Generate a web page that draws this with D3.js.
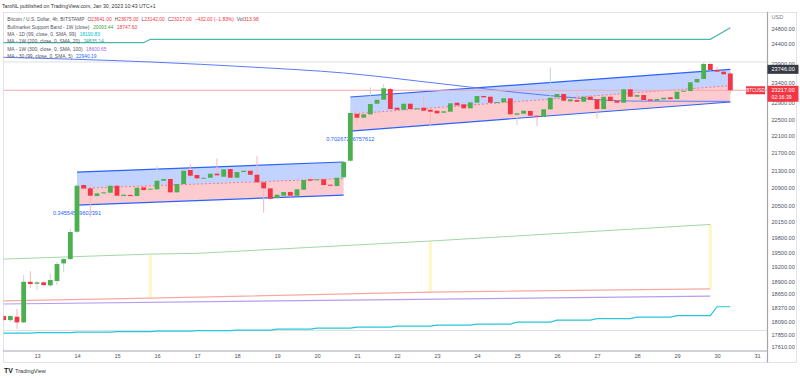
<!DOCTYPE html>
<html>
<head>
<meta charset="utf-8">
<script src="https://cdn.jsdelivr.net/npm/d3@7"></script>
<style>
  body { margin: 0; background: #fff; }
  svg text { font-family: "Liberation Sans", Arial, sans-serif; }
</style>
</head>
<body>
<svg id="chart" width="800" height="378"></svg>
<script>
// 4h BTC/USD bars starting Jan 12 04:00, each [open, high, low, close]
const firstBar = Date.UTC(2023, 0, 12, 4);
const barMs = 4 * 3600 * 1000;
const ohlc = [
  [18206, 18246, 18109, 18128], [18128, 18226, 18089, 18206], [18193, 18344, 17953, 18083],
  [18083, 19028, 18070, 18891], [18891, 19110, 18764, 18845], [18851, 18906, 18723, 18879],
  [18879, 18906, 18804, 18824], [18818, 19049, 18784, 18926], [18906, 19296, 18824, 19255],
  [19269, 19379, 19090, 19358], [19358, 19995, 19337, 19930], [19937, 20988, 19909, 20949],
  [20965, 21010, 20852, 20890], [20890, 21017, 20261, 20725], [20718, 21146, 20651, 20778],
  [20778, 20852, 20740, 20801], [20792, 20988, 20763, 20949], [20949, 21010, 20696, 20725],
  [20718, 20785, 20696, 20747], [20740, 20763, 20696, 20718], [20718, 20942, 20696, 20904],
  [20913, 20942, 20830, 20852], [20863, 20897, 20852, 20881], [20868, 21398, 20852, 21062],
  [21062, 21124, 21033, 21101], [21101, 21124, 20785, 20801], [20801, 21010, 20785, 20988],
  [20988, 21329, 20965, 21290], [21306, 21438, 21146, 21176], [21192, 21215, 21078, 21117],
  [21108, 21146, 21101, 21130], [21130, 21260, 21101, 21222], [21222, 21577, 21169, 21185],
  [21153, 21352, 21146, 21322], [21329, 21352, 21101, 21130], [21130, 21283, 21124, 21260],
  [21260, 21306, 21238, 21290], [21290, 21306, 21192, 21199], [21199, 21630, 21010, 21026],
  [21026, 21056, 20349, 20890], [20890, 20897, 20629, 20658], [20674, 20763, 20651, 20747],
  [20725, 20830, 20718, 20807], [20807, 20830, 20696, 20725], [20725, 20897, 20718, 20868],
  [20859, 21101, 20852, 21078], [21094, 21192, 21056, 21062], [21071, 21169, 21056, 21094],
  [21094, 21124, 20942, 20965], [20972, 20988, 20920, 20949], [20942, 21146, 20920, 21130],
  [21140, 21514, 21124, 21491], [21521, 22704, 21491, 22655], [22631, 22745, 22430, 22541],
  [22541, 22655, 22509, 22623], [22623, 23291, 22606, 22876], [22883, 22999, 22851, 22981],
  [22981, 23373, 22974, 23266], [23248, 23273, 22728, 22753], [22785, 22802, 22704, 22735],
  [22735, 22900, 22704, 22883], [22883, 22900, 22728, 22753], [22745, 22802, 22728, 22770],
  [22785, 23049, 22679, 22711], [22735, 22753, 22340, 22687], [22711, 22728, 22631, 22648],
  [22662, 22728, 22631, 22696], [22687, 22925, 22679, 22893], [22908, 22925, 22826, 22844],
  [22868, 22900, 22753, 22770], [22770, 22949, 22753, 22917], [22908, 23098, 22900, 23074],
  [23074, 23098, 23024, 23041], [23056, 23074, 22900, 22908], [22900, 22949, 22876, 22925],
  [22917, 23049, 22900, 23016], [23016, 23049, 22606, 22623], [22614, 22679, 22365, 22648],
  [22638, 22728, 22582, 22711], [22704, 22728, 22558, 22589], [22589, 22606, 22340, 22565],
  [22565, 22777, 22558, 22745], [22745, 23798, 22728, 23031], [23041, 23173, 23024, 23123],
  [23123, 23148, 22925, 22957], [22942, 23024, 22925, 22991], [22974, 23206, 22925, 22932],
  [22932, 23074, 22900, 23056], [23056, 23074, 22974, 22981], [22991, 23024, 22526, 22753],
  [22753, 23074, 22728, 23056], [23056, 23074, 22925, 22949], [22957, 22974, 22900, 22908],
  [22908, 23273, 22900, 23241], [23241, 23456, 23049, 23056], [23056, 23123, 23049, 23098],
  [23098, 23123, 22949, 22974], [22991, 22999, 22949, 22957], [22957, 23024, 22949, 22999],
  [22991, 23049, 22974, 23031], [23041, 23049, 22974, 22999], [22999, 23474, 22986, 23181],
  [23181, 23223, 23148, 23206], [23198, 23449, 23173, 23416], [23416, 23525, 23398, 23500],
  [23500, 23935, 23474, 23883], [23883, 23909, 23704, 23729], [23729, 23806, 23678, 23686],
  [23686, 23704, 23602, 23620], [23641, 23675, 23142, 23217]
];

const priceTicks = [24800, 24400, 23900, 23400, 22900, 22500, 22100, 21700, 21300, 20900,
  20500, 20150, 19800, 19500, 19200, 18900, 18650, 18370, 18090, 17850, 17610];

// indicator lines, [bar index, value]
const ma1w20 = [[-1, 24437], [21, 24437], [22, 24526], [106, 24526], [109, 24835.14]];
const ma30 = [[-1, 24060], [22, 23935], [37, 23806], [51, 23653], [66, 23373], [81, 23098], [94, 22949], [109, 22940.19]];
const bandTop = [[-1, 19353], [22, 19463], [29, 19478], [64, 19738], [106, 20093.44]];
const bandBottom = [[-1, 18503], [22, 18563], [64, 18683], [106, 18747.6]];
const ma1w300 = [[-1, 18443], [106, 18600.65]];
// daily MA, one value per calendar day Jan 12 .. Jan 30
const ma1dDaily = [17876, 17886, 17896, 17905, 17915, 17924, 17934, 17953, 17973, 17992,
  18012, 18031, 18050, 18089, 18128, 18157, 18187, 18216, 18390];
const bandMarks = [22, 64, 106];

// regression trend channels
const chanFrom = [11, 52];
const chanTo = [51, 109];
const chanUpper = [[21260, 21491], [23049, 23746]];
const chanLower = [[20518, 20740], [22220, 22925]];
const chanR = ["0.34554569602391", "0.70267236757612"];

const hLines = [23935, 17925];
const lastPrice = 23217;

const svg = d3.select("#chart");
const plotL = 3.5, plotR = 767.5, plotT = 12.5, plotB = 351;

const x = d3.scaleUtc()
  .domain([new Date(Date.UTC(2023, 0, 13)), new Date(Date.UTC(2023, 0, 31))])
  .range([37, 757]);
const y = d3.scaleLog().domain([17610, 24800]).range([347, 29]);
const bx = i => x(new Date(firstBar + i * barMs));

// frame
svg.append("rect").attr("x", 3.5).attr("y", 12.5).attr("width", 793).attr("height", 350)
  .attr("fill", "none").attr("stroke", "#e0e3eb");

svg.append("defs").append("clipPath").attr("id", "plot")
  .append("rect").attr("x", plotL).attr("y", plotT).attr("width", plotR - plotL).attr("height", plotB - plotT);

const plot = svg.append("g").attr("clip-path", "url(#plot)");

// horizontal lines
hLines.forEach(v => {
  plot.append("line").attr("x1", plotL).attr("x2", plotR).attr("y1", y(v)).attr("y2", y(v))
    .attr("stroke", "#dcdfe6").attr("stroke-width", 1);
});

const line = d3.line().x(d => bx(d[0])).y(d => y(d[1]));

// bull market band marks
const interp = pts => d3.scaleLinear().domain(pts.map(d => d[0])).range(pts.map(d => d[1]));
bandMarks.forEach(i => {
  const t1 = interp(bandTop)(i), b1 = interp(bandBottom)(i);
  plot.append("rect").attr("x", bx(i) - 1.5).attr("width", 3)
    .attr("y", y(t1)).attr("height", y(b1) - y(t1))
    .attr("fill", "#fff6c4");
});

plot.append("path").datum(bandTop).attr("d", line).attr("fill", "none")
  .attr("stroke", "#a5d6a7").attr("stroke-width", 1);
plot.append("path").datum(bandBottom).attr("d", line).attr("fill", "none")
  .attr("stroke", "#f7a9a1").attr("stroke-width", 1.2);
plot.append("path").datum(ma1w300).attr("d", line).attr("fill", "none")
  .attr("stroke", "#b89cf0").attr("stroke-width", 1.2);

const dailySeries = d3.range(-1, ohlc.length).map(i => [i, ma1dDaily[Math.max(0, Math.floor((i + 1) / 6))]]);
plot.append("path").datum(dailySeries).attr("d", line).attr("fill", "none")
  .attr("stroke", "#26c6da").attr("stroke-width", 1.2);

plot.append("path").datum(ma1w20).attr("d", line).attr("fill", "none")
  .attr("stroke", "#4db6ac").attr("stroke-width", 1.2);

// channels
chanFrom.forEach((f, k) => {
  const t = chanTo[k];
  const hi = chanUpper[k], lo = chanLower[k];
  const mid = [Math.sqrt(hi[0] * lo[0]), Math.sqrt(hi[1] * lo[1])];
  plot.append("path")
    .attr("d", `M${bx(f)},${y(hi[0])}L${bx(t)},${y(hi[1])}L${bx(t)},${y(mid[1])}L${bx(f)},${y(mid[0])}Z`)
    .attr("fill", "rgba(41,98,255,0.28)");
  plot.append("path")
    .attr("d", `M${bx(f)},${y(mid[0])}L${bx(t)},${y(mid[1])}L${bx(t)},${y(lo[1])}L${bx(f)},${y(lo[0])}Z`)
    .attr("fill", "rgba(242,54,69,0.26)");
  [hi, lo].forEach(v => {
    plot.append("line").attr("x1", bx(f)).attr("x2", bx(t)).attr("y1", y(v[0])).attr("y2", y(v[1]))
      .attr("stroke", "#2962ff").attr("stroke-width", 1.2);
  });
  plot.append("line").attr("x1", bx(f)).attr("x2", bx(t)).attr("y1", y(mid[0])).attr("y2", y(mid[1]))
    .attr("stroke", "#ef7c86").attr("stroke-width", 1).attr("stroke-dasharray", "2,2");
  plot.append("text").attr("x", bx(f)).attr("y", y(lo[0]) + 7.5)
    .attr("text-anchor", "middle").attr("dominant-baseline", "central")
    .attr("font-size", 5.6).attr("fill", "#2962ff").text(chanR[k]);
});

plot.append("path").datum(ma30).attr("d", d3.line().x(d => bx(d[0])).y(d => y(d[1])).curve(d3.curveMonotoneX))
  .attr("fill", "none").attr("stroke", "#5b7cf7").attr("stroke-width", 1);

// last price line
plot.append("line").attr("x1", plotL).attr("x2", plotR).attr("y1", y(lastPrice)).attr("y2", y(lastPrice))
  .attr("stroke", "#f7a6ad").attr("stroke-width", 1);

// candles
const upCol = "#4caf50", downCol = "#f23645";
const bars = plot.append("g").selectAll("g").data(ohlc).join("g");
bars.append("line")
  .attr("x1", (d, i) => bx(i)).attr("x2", (d, i) => bx(i))
  .attr("y1", d => y(d[1])).attr("y2", d => y(d[2]))
  .attr("stroke", d => d[3] >= d[0] ? "#c5d6d8" : "#f7b6bd").attr("stroke-width", 1);
bars.append("rect")
  .attr("x", (d, i) => bx(i) - 2.4).attr("width", 4.8)
  .attr("y", d => y(Math.max(d[0], d[3])))
  .attr("height", d => Math.max(1, Math.abs(y(d[0]) - y(d[3]))))
  .attr("fill", d => d[3] >= d[0] ? upCol : downCol);

// axes
svg.append("line").attr("x1", 3).attr("x2", plotR).attr("y1", plotB).attr("y2", plotB)
  .attr("stroke", "#a3a6af").attr("stroke-width", 1.2);
svg.append("line").attr("x1", plotR).attr("x2", plotR).attr("y1", 12).attr("y2", 362.5)
  .attr("stroke", "#a3a6af").attr("stroke-width", 1.2);

const xAxis = svg.append("g").attr("transform", `translate(0,${plotB})`)
  .call(d3.axisBottom(x).ticks(d3.utcDay.every(1)).tickFormat(d3.utcFormat("%-d")).tickSize(0).tickPadding(3));
xAxis.select(".domain").remove();
xAxis.selectAll("text").attr("font-size", 5.6).attr("fill", "#50535e").attr("font-family", null);

const yAxis = svg.append("g").attr("transform", `translate(${plotR},0)`)
  .call(d3.axisRight(y).tickValues(priceTicks).tickFormat(d3.format(".2f")).tickSize(0).tickPadding(4));
yAxis.select(".domain").remove();
yAxis.selectAll("text").attr("font-size", 5.6).attr("fill", "#50535e").attr("font-family", null);

svg.append("text").attr("x", 771.5).attr("y", 17).attr("dominant-baseline", "central")
  .attr("font-size", 5.6).attr("fill", "#787b86").text("USD");

// price labels
svg.append("rect").attr("x", plotR).attr("y", y(23746) - 4.5).attr("width", 31).attr("height", 9)
  .attr("fill", "#363a45");
svg.append("text").attr("x", 771.5).attr("y", y(23746)).attr("dominant-baseline", "central")
  .attr("font-size", 5.6).attr("fill", "#fff").text("23746.00");
svg.append("rect").attr("x", plotR).attr("y", y(lastPrice) - 4.5).attr("width", 31).attr("height", 16)
  .attr("fill", downCol);
svg.append("text").attr("x", 771.5).attr("y", y(lastPrice)).attr("dominant-baseline", "central")
  .attr("font-size", 5.6).attr("fill", "#fff").text("23217.00");
svg.append("text").attr("x", 771.5).attr("y", y(lastPrice) + 6.5).attr("dominant-baseline", "central")
  .attr("font-size", 5.2).attr("fill", "#fff").text("02:16:39");
svg.append("rect").attr("x", 746).attr("y", y(lastPrice) - 4).attr("width", 19).attr("height", 8)
  .attr("fill", downCol);
svg.append("text").attr("x", 755.5).attr("y", y(lastPrice)).attr("text-anchor", "middle")
  .attr("dominant-baseline", "central").attr("font-size", 4.5).attr("fill", "#fff").text("BTCUSD");

// header and legend
svg.append("text").attr("x", 2).attr("y", 6).attr("dominant-baseline", "central")
  .attr("font-size", 5.2).attr("fill", "#333").text("TaroNL published on TradingView.com, Jan 30, 2023 10:43 UTC+1");

const grey = "#50535e";
// each chunk: [gap before, text, colour]
const legendRows = [
  [[0, "Bitcoin / U.S. Dollar, 4h, BITSTAMP", grey], [3, "O", grey], [0, "23641.00", downCol],
   [3, "H", grey], [0, "23675.00", downCol], [3, "L", grey], [0, "23142.00", downCol],
   [3, "C", grey], [0, "23217.00", downCol], [3, "\u2212432.00 (\u22121.83%)", downCol],
   [3, "Vol", grey], [0, "313.98", downCol]],
  [[0, "Bullmarket Support Band - 1W (close)", grey], [3.5, "20093.44", "#43a047"], [3.5, "18747.60", downCol]],
  [[0, "MA - 1D (99, close, 0, SMA, 99)", grey], [3.5, "18190.83", "#00bcd4"]],
  [[0, "MA - 1W (200, close, 0, SMA, 20)", grey], [3.5, "24835.14", "#26a69a"]],
  [[0, "MA - 1W (300, close, 0, SMA, 100)", grey], [3.5, "18600.65", "#9c6ade"]],
  [[0, "MA - 30 (99, close, 0, SMA, 5)", grey], [3.5, "22940.19", "#2962ff"]]
];
const rowY = [19, 26.6, 34, 41.2, 48.6, 56];
legendRows.forEach((row, r) => {
  const t = svg.append("text").attr("x", 7.3).attr("y", rowY[r])
    .attr("dominant-baseline", "central").attr("font-size", 4.9);
  row.forEach(([gap, s, c]) => t.append("tspan").attr("dx", gap).attr("fill", c).text(s));
});

// footer logo
svg.append("text").attr("x", 4).attr("y", 370.5).attr("dominant-baseline", "central")
  .attr("font-size", 7).attr("font-weight", "bold").attr("fill", "#131722").text("TV");
svg.append("text").attr("x", 15).attr("y", 370.5).attr("dominant-baseline", "central")
  .attr("font-size", 5.6).attr("fill", "#333").text("TradingView");
</script>
</body>
</html>
